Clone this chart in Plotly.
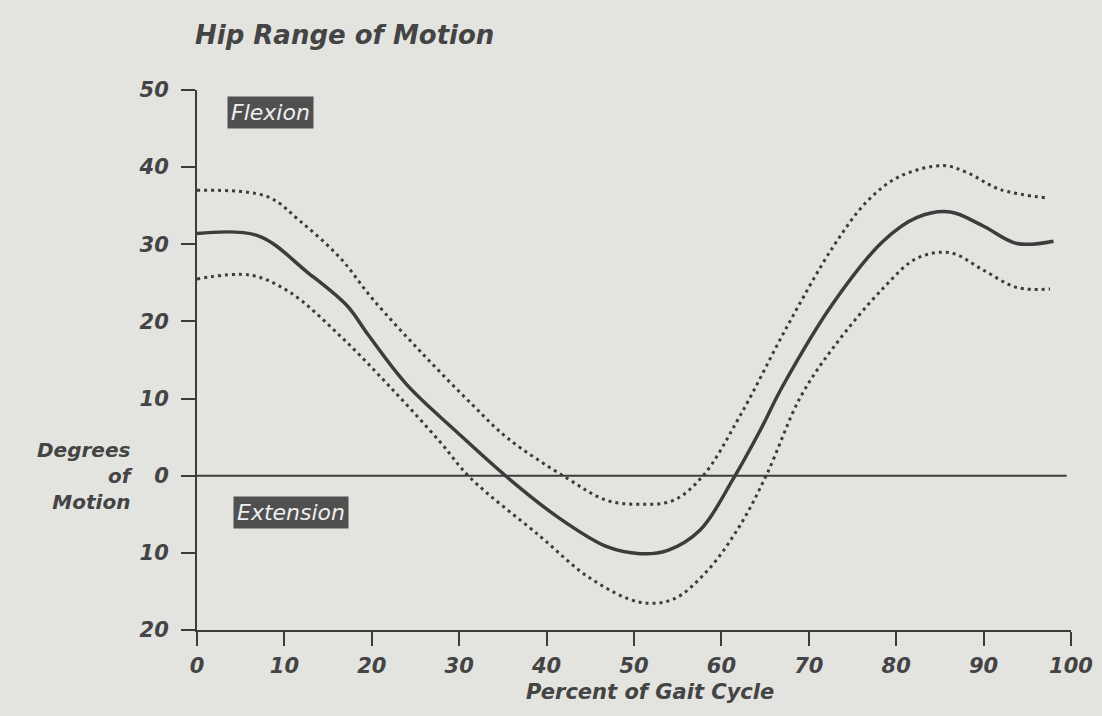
import plotly.graph_objects as go

# ---- data ----
pct_mean = [0, 7, 12.6, 17.2, 19.5, 24, 29.7, 35.5, 41.2, 46.9, 50.7, 53.8, 57.6, 61.3,
            64.4, 67, 72.8, 78.5, 82.4, 86.2, 89.9, 93.8, 98]
mean_deg = [31.4, 31.1, 26.4, 22.0, 18.4, 11.8, 5.7, -0.2, -5.3, -9.2, -10.1, -9.7, -7.0, -0.5,
            5.8, 11.6, 22.4, 30.4, 33.5, 34.2, 32.4, 30.1, 30.4]

pct_upper = [0, 8, 11.8, 16.4, 20.1, 25.9, 31.6, 35.5, 42.3, 46.9, 50.7, 54.5, 57.9, 62.1,
             67.5, 72.8, 76.7, 80.4, 85.4, 88.1, 91.9, 97.3]
upper_deg = [37.0, 36.2, 33.0, 28.2, 22.9, 15.7, 9.1, 4.9, -0.3, -3.2, -3.7, -3.2, 0.0, 7.7,
             19.3, 29.7, 35.6, 38.8, 40.2, 39.3, 37.1, 36.0]

pct_lower = [0, 6.1, 10.6, 16.4, 22.1, 27.8, 31.2, 39.2, 45.0, 50.7, 54.5, 58.4, 62.1, 65.2,
             69.0, 72.8, 78.5, 82.4, 86.2, 89.9, 93.8, 97.6]
lower_deg = [25.5, 26.0, 23.8, 18.1, 11.5, 4.4, -0.2, -7.8, -13.3, -16.4, -16.0, -12.3, -6.5, 0.2,
             10.1, 16.6, 24.3, 28.2, 28.9, 26.7, 24.4, 24.2]

x_ticks = [0, 10, 20, 30, 40, 50, 60, 70, 80, 90, 100]
y_ticks = [50, 40, 30, 20, 10, 0, -10, -20]
y_tick_text = ["50", "40", "30", "20", "10", "0", "10", "20"]
zero_line_x = [0, 99.5]
zero_line_y = [0, 0]

# ---- style ----
BG = "#e3e3e0"
INK = "#444444"
LINE = "#3c3c3c"
FONT = "DejaVu Sans"

fig = go.Figure()

fig.add_trace(go.Scatter(x=zero_line_x, y=zero_line_y, mode="lines",
                         line=dict(color=LINE, width=2), hoverinfo="skip", showlegend=False))
fig.add_trace(go.Scatter(x=pct_upper, y=upper_deg, mode="lines", line_shape="spline",
                         line=dict(color=LINE, width=3, dash="3px,4px", smoothing=1.0),
                         showlegend=False))
fig.add_trace(go.Scatter(x=pct_lower, y=lower_deg, mode="lines", line_shape="spline",
                         line=dict(color=LINE, width=3, dash="3px,4px", smoothing=1.0),
                         showlegend=False))
fig.add_trace(go.Scatter(x=pct_mean, y=mean_deg, mode="lines", line_shape="spline",
                         line=dict(color=LINE, width=3.5, smoothing=1.0),
                         showlegend=False))

axis_font = dict(family=FONT, size=21, color=INK, weight="bold", style="italic")

fig.update_layout(
    width=1102, height=716,
    paper_bgcolor=BG, plot_bgcolor=BG,
    margin=dict(l=197, r=31, t=90, b=86, autoexpand=False),
    title=dict(text="Hip Range of Motion", x=195 / 1102, xanchor="left",
               y=1 - 35 / 716, yanchor="middle",
               font=dict(family=FONT, size=26, color=INK, weight="bold", style="italic")),
    xaxis=dict(range=[0, 100], tickvals=x_ticks, ticks="outside", ticklen=14, tickwidth=2,
               tickcolor=LINE, showline=True, linecolor=LINE, linewidth=2, showgrid=False,
               zeroline=False, tickfont=axis_font, ticklabelstandoff=2, automargin=False),
    yaxis=dict(range=[-20, 50], tickvals=y_ticks, ticktext=y_tick_text, ticks="outside",
               ticklen=14, tickwidth=2, tickcolor=LINE, showline=True, linecolor=LINE,
               linewidth=2, showgrid=False, zeroline=False, tickfont=axis_font,
               ticklabelstandoff=8, automargin=False),
    annotations=[
        dict(text="Percent of Gait Cycle", xref="paper", yref="paper",
             x=(650 - 197) / 874, y=-(692 - 630) / 540, xanchor="center", yanchor="middle",
             showarrow=False,
             font=dict(family=FONT, size=21, color=INK, weight="bold", style="italic")),
        dict(text="Degrees<br>of<br>Motion", xref="paper", yref="y", x=-62 / 874, y=0.0,
             xanchor="right", yanchor="middle", align="right", showarrow=False,
             font=dict(family=FONT, size=20, color=INK, weight="bold", style="italic")),
        dict(text="Flexion", xref="x", yref="y", x=3.4, y=47.1, xanchor="left",
             yanchor="middle", showarrow=False, bgcolor="#505050", borderpad=3,
             font=dict(family=FONT, size=22, color="#eeeeee", style="italic")),
        dict(text="Extension", xref="x", yref="y", x=4.1, y=-4.8, xanchor="left",
             yanchor="middle", showarrow=False, bgcolor="#505050", borderpad=3,
             font=dict(family=FONT, size=22, color="#eeeeee", style="italic")),
    ],
)

fig.write_html("out.html")
